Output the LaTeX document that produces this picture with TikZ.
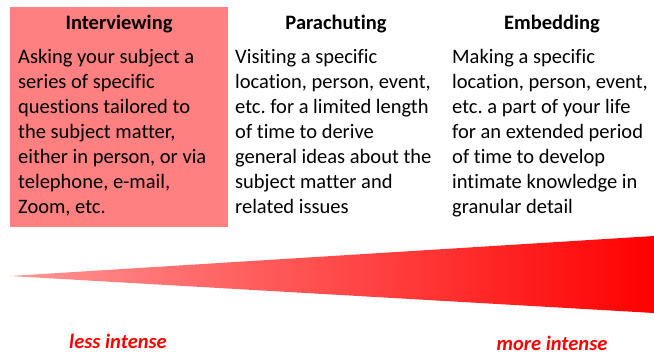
\documentclass[tikz,border=0pt]{standalone}
\usepackage{fontspec}
\setmainfont[Ligatures=CommonOff]{Carlito}
\usetikzlibrary{positioning}
\frenchspacing
\definecolor{boxpink}{RGB}{255,128,128}
\definecolor{tippink}{RGB}{255,150,150}
\tikzset{
  heading/.style={font=\fontsize{20.5}{25}\selectfont\bfseries, inner sep=0pt, anchor=base},
  body/.style={font=\fontsize{20.5}{25}\selectfont, align=left, inner sep=0pt, anchor=north west},
  intensity/.style={font=\fontsize{20.5}{25}\selectfont\bfseries\itshape, text=red, inner sep=0pt, anchor=base},
}

\begin{document}
\begin{tikzpicture}[x=1pt, y=-1pt]
    \useasboundingbox (0,0) rectangle (654,354);

    % highlight behind the first column
    \fill[boxpink] (10,7) rectangle (228,227);

    % intensity wedge
    \shade[left color=tippink, right color=red] (10,276) -- (654,236) -- (654,313) -- cycle;

    \node[heading] (hint) at (119,29) {Interviewing};
    \node[heading] (hpar) at (336,29) {Parachuting};
    \node[heading] (hemb) at (552,29) {Embedding};

    \node[body] (tint) at (18,49) {Asking your subject a\\series of specific\\questions tailored to\\the subject matter,\\either in person, or via\\telephone, e-mail,\\Zoom, etc.};
    \node[body] (tpar) at (235,49) {Visiting a specific\\location, person, event,\\etc. for a limited length\\of time to derive\\general ideas about the\\subject matter and\\related issues};
    \node[body] (temb) at (452,49) {Making a specific\\location, person, event,\\etc. a part of your life\\for an extended period\\of time to develop\\intimate knowledge in\\granular detail};

    \node[intensity] (less) at (118,348) {less intense};
    \node[intensity] (more) at (552,350) {more intense};
\end{tikzpicture}
\end{document}
